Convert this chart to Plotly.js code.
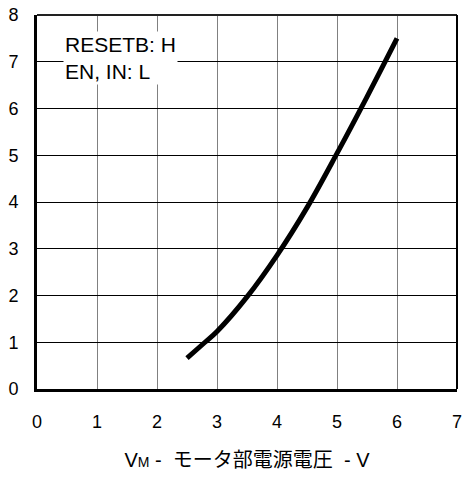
<!DOCTYPE html>
<html>
<head>
<meta charset="utf-8">
<script src="https://cdn.plot.ly/plotly-3.0.1.min.js"></script>
<style>html,body{margin:0;padding:0;background:#fff;}#chart{width:463px;height:480px;}</style>
</head>
<body>
<div id="chart"></div>
<script>
// Data
const supplyVoltage = [2.5, 2.8, 3.0, 3.5, 4.0, 4.5, 5.0, 5.5, 6.0];
const supplyCurrent = [0.66, 1.0, 1.23, 1.97, 2.86, 3.88, 5.04, 6.25, 7.5];
const xTicks = [0, 1, 2, 3, 4, 5, 6, 7];
const yTicks = [0, 1, 2, 3, 4, 5, 6, 7, 8];
const noteLines = ["RESETB: H", "EN, IN: L"];
const xTitle = "V<span style=\"font-size:14px\">M</span> -  モータ部電源電圧  - V";

const FONT = "Liberation Sans, Arial, Noto Sans CJK JP, sans-serif";

const trace = {
  x: supplyVoltage,
  y: supplyCurrent,
  type: "scatter",
  mode: "lines",
  line: {color: "#000", width: 5, shape: "spline", smoothing: 1},
  hoverinfo: "skip",
  showlegend: false
};

const layout = {
  width: 463,
  height: 480,
  margin: {l: 37, r: 6, t: 15, b: 91},
  paper_bgcolor: "#fff",
  plot_bgcolor: "#fff",
  font: {family: FONT, size: 16, color: "#000"},
  xaxis: {
    range: [0, 7],
    tickvals: xTicks,
    ticktext: xTicks.map(String),
    showgrid: true,
    gridcolor: "#808080",
    gridwidth: 1,
    zeroline: false,
    showline: true,
    linecolor: "#000",
    linewidth: 3,
    ticks: "outside",
    ticklen: 14,
    tickcolor: "rgba(0,0,0,0)",
    tickfont: {family: FONT, size: 18, color: "#000"},
    fixedrange: true,
    title: {text: xTitle, font: {family: FONT, size: 20, color: "#000"}, standoff: 23}
  },
  yaxis: {
    range: [0, 8],
    tickvals: yTicks,
    ticktext: yTicks.map(String),
    showgrid: true,
    gridcolor: "#000",
    gridwidth: 1,
    zeroline: false,
    showline: true,
    linecolor: "#000",
    linewidth: 3,
    ticks: "outside",
    ticklen: 12,
    tickcolor: "rgba(0,0,0,0)",
    tickfont: {family: FONT, size: 18, color: "#000"},
    fixedrange: true
  },
  shapes: [
    {type: "line", xref: "paper", yref: "paper", x0: 0, x1: 1, y0: 1, y1: 1, line: {color: "#222", width: 2}},
    {type: "line", xref: "paper", yref: "paper", x0: 1, x1: 1, y0: 0, y1: 1, line: {color: "#000", width: 2}}
  ],
  annotations: [{
    xref: "paper", yref: "paper",
    x: 0.062, y: 0.957,
    xanchor: "left", yanchor: "top",
    align: "left",
    text: noteLines.join("<br>"),
    showarrow: false,
    bgcolor: "#fff",
    borderpad: 1,
    font: {family: FONT, size: 21, color: "#000"}
  }]
};

Plotly.newPlot("chart", [trace], layout, {displayModeBar: false, staticPlot: true});
</script>
</body>
</html>
